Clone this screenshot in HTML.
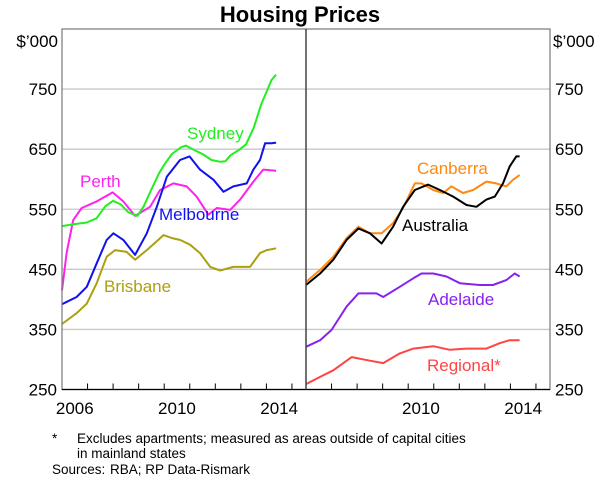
<!DOCTYPE html>
<html><head><meta charset="utf-8"><style>
html,body{margin:0;padding:0;background:#fff;}
svg{display:block;font-family:"Liberation Sans",Arial,sans-serif;}
</style></head><body>
<svg id="chart" width="600" height="487" viewBox="0 0 600 487" xmlns="http://www.w3.org/2000/svg">
<text x="300" y="22" text-anchor="middle" font-size="22" font-weight="bold">Housing Prices</text>
<g id="grid"></g>
<g id="series"></g>
<g id="axes"></g>
<g id="labels" font-size="17">
<text x="187" y="139" fill="#22ee22">Sydney</text>
<text x="80" y="187" fill="#ff22ee">Perth</text>
<text x="159" y="220" fill="#1111ee">Melbourne</text>
<text x="104" y="292" fill="#aaa011">Brisbane</text>
<text x="417" y="174" fill="#ff8811">Canberra</text>
<text x="402" y="231" fill="#000">Australia</text>
<text x="428" y="305" fill="#8822ee">Adelaide</text>
<text x="427" y="371" fill="#ff4444">Regional*</text>
</g>
<g font-size="13.5">
<text x="52" y="443">*</text>
<text x="77" y="443">Excludes apartments; measured as areas outside of capital cities</text>
<text x="77" y="458">in mainland states</text>
<text x="52" y="474">Sources:</text>
<text x="110" y="474">RBA; RP Data-Rismark</text>
</g>
</svg>
<script>
const yTicks = [250, 350, 450, 550, 650, 750];
const yearLabelsLeft = [2006, 2010, 2014];
const yearLabelsRight = [2010, 2014];

const sydneyX = [2006.0,2006.45,2006.97,2007.35,2007.7,2008.0,2008.3,2008.6,2008.95,2009.2,2009.5,2009.8,2010.0,2010.3,2010.65,2010.85,2011.2,2011.5,2011.85,2012.2,2012.4,2012.6,2012.9,2013.2,2013.5,2013.8,2014.0,2014.2,2014.38];
const sydneyY = [522,525,528,535,555,564,558,545,539,555,583,610,624,642,653,656,648,642,632,629,630,640,648,658,685,725,745,765,774];
const perthX = [2006.0,2006.18,2006.44,2006.77,2007.36,2007.98,2008.4,2008.86,2009.45,2009.84,2010.36,2010.88,2011.27,2011.73,2012.06,2012.58,2012.97,2013.49,2013.88,2014.38];
const perthY = [415,477,532,552,563,578,563,539,554,582,593,588,571,541,552,549,566,596,616,614];
const melbX = [2006.0,2006.57,2006.97,2007.36,2007.75,2008.01,2008.4,2008.86,2009.32,2009.71,2010.1,2010.62,2010.99,2011.4,2011.93,2012.32,2012.71,2013.23,2013.49,2013.75,2013.95,2014.21,2014.38];
const melbY = [392,404,421,460,499,510,499,474,510,554,604,632,638,616,599,579,588,593,616,632,660,660,661];
const brisX = [2006.0,2006.57,2006.97,2007.36,2007.75,2008.08,2008.53,2008.86,2009.32,2009.77,2009.97,2010.3,2010.62,2011.01,2011.4,2011.8,2012.19,2012.71,2013.36,2013.75,2014.02,2014.38];
const brisY = [359,377,393,427,471,482,479,466,482,499,507,502,499,491,477,454,448,454,454,477,482,485];

const ausX = [2006.0,2006.55,2007.07,2007.59,2008.05,2008.5,2008.96,2009.41,2009.8,2010.26,2010.78,2011.24,2011.76,2012.28,2012.67,2013.06,2013.39,2013.71,2013.97,2014.23,2014.36];
const ausY = [424,443,466,499,518,510,493,521,554,582,591,582,571,557,554,566,571,593,621,638,638];
const canX = [2006.0,2006.55,2007.07,2007.59,2008.05,2008.5,2008.96,2009.41,2009.8,2010.26,2010.52,2010.98,2011.37,2011.69,2012.15,2012.54,2013.06,2013.45,2013.84,2014.1,2014.36];
const canY = [429,449,471,502,521,510,510,527,552,593,593,582,577,588,577,582,596,593,588,599,607];
const adeX = [2006.0,2006.55,2007.0,2007.59,2008.05,2008.76,2009.02,2009.67,2010.2,2010.52,2010.98,2011.5,2012.02,2012.8,2013.32,2013.84,2014.17,2014.36];
const adeY = [321,332,349,388,410,410,404,421,435,443,443,438,427,424,424,432,443,438];
const regX = [2006.0,2006.55,2007.07,2007.79,2008.5,2009.02,2009.67,2010.2,2010.98,2011.63,2012.28,2013.06,2013.58,2013.97,2014.36];
const regY = [259,271,282,304,298,294,310,318,322,316,318,318,327,332,332];

const NS = "http://www.w3.org/2000/svg";
const TOP = 29, BOT = 389.5;
function yS(v){ return BOT - (v - 250) * (BOT - TOP) / 600; }
const L0 = 62, R0 = 306, W = 244, YR0 = 2006, YR1 = 2015.55;
function xL(t){ return L0 + (t - YR0) * W / (YR1 - YR0); }
function xR(t){ return R0 + (t - YR0) * W / (YR1 - YR0); }
function mk(tag, attrs, parent){ const e = document.createElementNS(NS, tag); for (const k in attrs) e.setAttribute(k, attrs[k]); parent.appendChild(e); return e; }

const grid = document.getElementById('grid');
const axes = document.getElementById('axes');
const series = document.getElementById('series');

yTicks.forEach(v => {
  if (v === 250) return;
  const g = mk('line', {x1: L0, x2: 550, y1: yS(v), y2: yS(v), stroke: '#c8c8c8', 'stroke-width': 1.3}, grid);
  
  
});
yTicks.forEach(v => {
  const t1 = mk('text', {x: 57, y: yS(v) + 6, 'text-anchor': 'end', 'font-size': 17}, axes);
  t1.textContent = v;
  
  
  const t2 = mk('text', {x: 555, y: yS(v) + 6, 'font-size': 17}, axes);
  t2.textContent = v;
  
  
});
const u1 = mk('text', {x: 58, y: 47, 'text-anchor': 'end', 'font-size': 17}, axes);
u1.textContent = "$\u2019000";


const u2 = mk('text', {x: 553, y: 47, 'font-size': 17}, axes);
u2.textContent = "$\u2019000";



for (let y = 2006; y <= 2015; y++) {
  [xL(y), xR(y)].forEach((x, i) => {
    if (x <= L0 + 0.5 || Math.abs(x - R0) < 0.5) return;
    const tk = mk('line', {x1: x, x2: x, y1: BOT, y2: BOT - 6, stroke: '#000', 'stroke-width': 1}, axes);
    
    
  });
}
yearLabelsLeft.forEach(y => {
  const t = mk('text', {x: xL(y + 0.5), y: 414, 'text-anchor': 'middle', 'font-size': 17}, axes);
  t.textContent = y;
  
  
});
yearLabelsRight.forEach(y => {
  const t = mk('text', {x: xR(y + 0.5), y: 414, 'text-anchor': 'middle', 'font-size': 17}, axes);
  t.textContent = y;
  
  
});
const fr = mk('rect', {x: L0, y: TOP, width: 550 - L0, height: BOT - TOP, fill: 'none', stroke: '#777', 'stroke-width': 1.2}, axes);


const bl = mk('line', {x1: L0, x2: 550, y1: BOT, y2: BOT, stroke: '#000', 'stroke-width': 1.2}, axes);


const dv = mk('line', {x1: R0, x2: R0, y1: TOP, y2: BOT, stroke: '#444', 'stroke-width': 1.5}, axes);



function draw(xs, ys, xf, color, name){
  const d = xs.map((t, i) => (i ? 'L' : 'M') + xf(t).toFixed(1) + ',' + yS(ys[i]).toFixed(1)).join('');
  const p = mk('path', {d: d, fill: 'none', stroke: color, 'stroke-width': 2, 'stroke-linejoin': 'round'}, series);
  
  
}
draw(brisX, brisY, xL, '#aaa011', 'line-brisbane');
draw(perthX, perthY, xL, '#ff22ee', 'line-perth');
draw(sydneyX, sydneyY, xL, '#22ee22', 'line-sydney');
draw(melbX, melbY, xL, '#1111ee', 'line-melbourne');
draw(regX, regY, xR, '#ff4444', 'line-regional');
draw(adeX, adeY, xR, '#8822ee', 'line-adelaide');
draw(canX, canY, xR, '#ff8811', 'line-canberra');
draw(ausX, ausY, xR, '#000000', 'line-australia');
</script>
</body></html>
